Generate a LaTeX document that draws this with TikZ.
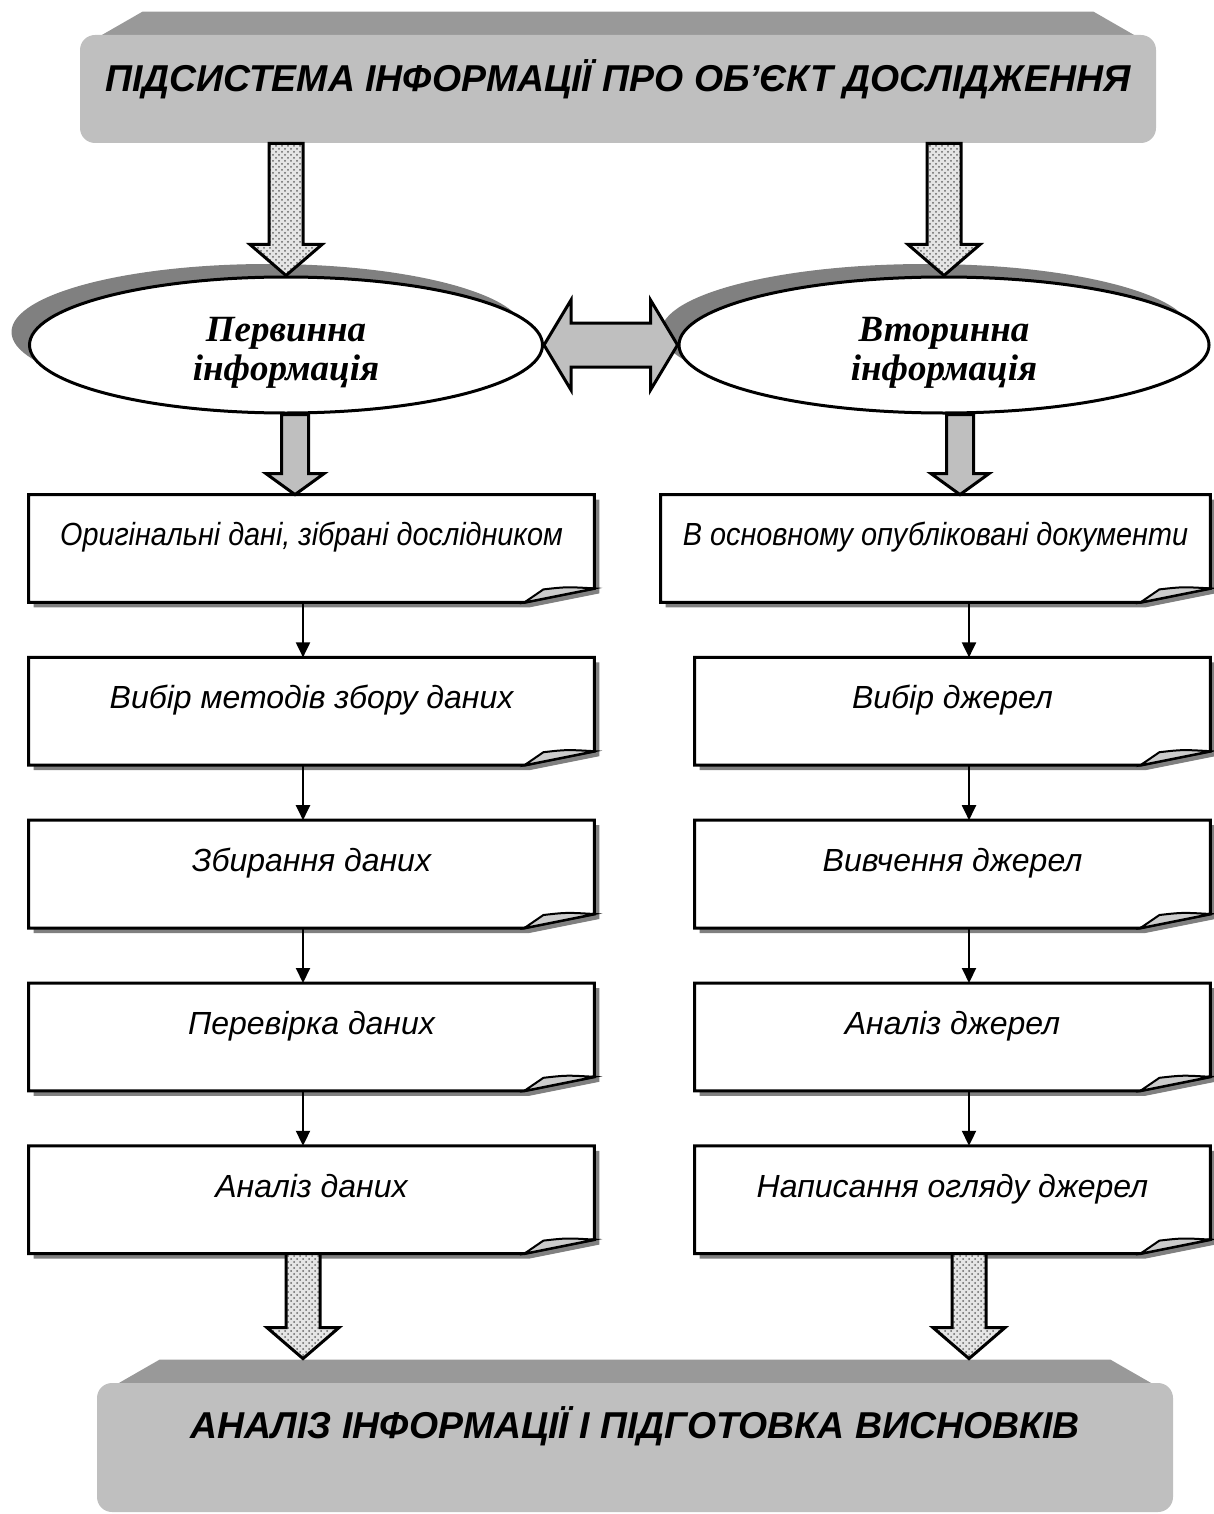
\documentclass[tikz,border=0pt]{standalone}
\usepackage{fontspec}
\setmainfont{Liberation Sans}
\newfontfamily\timesfont{Liberation Serif}
\newfontfamily\narrowfont{Liberation Sans}[FakeStretch=0.9]
\usetikzlibrary{arrows.meta}
\usetikzlibrary{positioning}
\usetikzlibrary{shapes.geometric}
\usetikzlibrary{shadows}
\usetikzlibrary{patterns}
\usetikzlibrary{backgrounds}
\usetikzlibrary{calc}

\tikzset{
    banner/.style={rectangle, rounded corners=7.5pt, fill=black!25, inner sep=0pt,
        minimum width=538pt, font=\fontsize{18.7}{21}\selectfont\bfseries\itshape},
    bevel/.style={fill=black!40},
    info/.style={ellipse, draw, line width=1.5pt, fill=white, inner sep=0pt,
        minimum height=68pt, align=center, text height=39.5pt, text depth=4.5pt,
        font=\timesfont\fontsize{18.5}{19.5}\selectfont\bfseries\itshape,
        drop shadow={shadow xshift=-9pt, shadow yshift=6.5pt, fill=black!50, opacity=1}},
    note/.style={rectangle, inner sep=0pt, minimum width=282.5pt, minimum height=53.5pt,
        text height=8pt, text depth=10.6pt, font=\fontsize{16}{19}\selectfont\itshape},
    narrow/.style={font=\narrowfont\fontsize{16}{19}\selectfont\itshape},
    link/.style={-{Triangle[length=7.5pt,width=7pt]}, line width=1pt},
    fat/.style n args={3}{to path={let \p1=(\tikztostart), \p2=(\tikztotarget) in
        (\x1-#1,\y1) -- (\x1-#1,\y2+#3) -- (\x1-#2,\y2+#3) -- (\x1,\y2)
        -- (\x1+#2,\y2+#3) -- (\x1+#1,\y2+#3) -- (\x1+#1,\y1) -- cycle}},
    dotarrow/.style={fat={8.5pt}{18pt}{15.5pt}, draw, line width=1.5pt,
        preaction={fill=black!10}, pattern=crosshatch dots, pattern color=black!60},
    greyarrow/.style={fat={6.75pt}{14.5pt}{10.5pt}, draw, line width=1.5pt, fill=black!25},
    twoway/.style={draw, line width=1.5pt, fill=black!25,
        to path={let \p1=(\tikztostart), \p2=(\tikztotarget) in
        (\x1,\y1) -- (\x1+13.5pt,\y1+22.5pt) -- (\x1+13.5pt,\y1+11pt) -- (\x2-13.5pt,\y1+11pt)
        -- (\x2-13.5pt,\y1+22.5pt) -- (\x2,\y1) -- (\x2-13.5pt,\y1-22.5pt) -- (\x2-13.5pt,\y1-11pt)
        -- (\x1+13.5pt,\y1-11pt) -- (\x1+13.5pt,\y1-22.5pt) -- cycle}}
}

\begin{document}
\begin{tikzpicture}[x=0.5pt, y=0.5pt]

                    \useasboundingbox (0,0) rectangle (1214,-1514);

                    \node[banner, minimum height=54pt, text height=12pt, text depth=9pt] (src) at (618,-89) {ПІДСИСТЕМА ІНФОРМАЦІЇ ПРО ОБ’ЄКТ ДОСЛІДЖЕННЯ};

                    \node[info, minimum width=256.5pt] (prim) at (286,-345) {Первинна\\інформація};
                    \node[info, minimum width=265pt]   (sec)  at (944,-345) {Вторинна\\інформація};

                    \node[note, narrow] (p_1) at (311.5,-548.5) {Оригінальні дані, зібрані дослідником};
                    \node[note] (p_2) [below = 27.5pt of p_1] {Вибір методів збору даних};
                    \node[note] (p_3) [below = 27.5pt of p_2] {Збирання даних};
                    \node[note] (p_4) [below = 27.5pt of p_3] {Перевірка даних};
                    \node[note] (p_5) [below = 27.5pt of p_4] {Аналіз даних};

                    \node[note, narrow, minimum width=274.5pt] (s_1) at (935.5,-548.5) {В основному опубліковані документи};
                    \node[note, minimum width=257.5pt] (s_2) [below = 27.5pt of s_1, xshift=8.5pt] {Вибір джерел};
                    \node[note, minimum width=257.5pt] (s_3) [below = 27.5pt of s_2] {Вивчення джерел};
                    \node[note, minimum width=257.5pt] (s_4) [below = 27.5pt of s_3] {Аналіз джерел};
                    \node[note, minimum width=257.5pt] (s_5) [below = 27.5pt of s_4] {Написання огляду джерел};

                    \node[banner, minimum height=64.5pt, text height=8pt, text depth=17.5pt] (res) at (635,-1447.5) {АНАЛІЗ ІНФОРМАЦІЇ І ПІДГОТОВКА ВИСНОВКІВ};

                    \coordinate (lx) at (303,0);
                    \coordinate (rx) at (969,0);
                    \coordinate (restop) at ([yshift=12pt]res.north);
                    \coordinate (pstem) at ([xshift=4.5pt]prim.south);
                    \coordinate (sstem) at ([xshift=8pt]sec.south);

                    \path[dotarrow] (src.south -| prim.north) to (prim.north);
                    \path[dotarrow] (src.south -| sec.north) to (sec.north);
                    \path[twoway] (prim.east) to (sec.west);
                    \path[greyarrow] (pstem) to (pstem |- p_1.north);
                    \path[greyarrow] (sstem) to (sstem |- s_1.north);

                    \path[link]
                    (p_1.south -| lx) edge (p_2.north -| lx)
                    (p_2.south -| lx) edge (p_3.north -| lx)
                    (p_3.south -| lx) edge (p_4.north -| lx)
                    (p_4.south -| lx) edge (p_5.north -| lx)
                    (s_1.south -| rx) edge (s_2.north -| rx)
                    (s_2.south -| rx) edge (s_3.north -| rx)
                    (s_3.south -| rx) edge (s_4.north -| rx)
                    (s_4.south -| rx) edge (s_5.north -| rx);

                    \path[dotarrow] (p_5.south -| lx) to (restop -| lx);
                    \path[dotarrow] (s_5.south -| rx) to (restop -| rx);

                    \begin{scope}[on background layer]
                    \foreach \b in {src,res}
                        \fill[bevel] ([xshift=31.5pt,yshift=11.5pt]\b.north west) -- ([xshift=-31.5pt,yshift=11.5pt]\b.north east)
                            -- ([xshift=-8pt,yshift=-2pt]\b.north east) -- ([xshift=8pt,yshift=-2pt]\b.north west) -- cycle;
                    \foreach \n in {p_1,p_2,p_3,p_4,p_5,s_1,s_2,s_3,s_4,s_5} {
                        \fill[black!50, transform canvas={shift={(2.5pt,-2.5pt)}}] (\n.north west) -- (\n.north east)
                            -- ([yshift=7pt]\n.south east) -- ([xshift=-35pt]\n.south east) -- (\n.south west) -- cycle;
                        \draw[line width=1.5pt, fill=white] (\n.north west) -- (\n.north east)
                            -- ([yshift=7pt]\n.south east) -- ([xshift=-35pt]\n.south east) -- (\n.south west) -- cycle;
                        \draw[line width=1pt, fill=black!20] ([xshift=-35pt]\n.south east) -- ([xshift=-25.5pt,yshift=6.5pt]\n.south east)
                            .. controls ([xshift=-14pt,yshift=7.8pt]\n.south east) .. ([yshift=7pt]\n.south east) -- cycle;
                    }
                    \end{scope}

                \end{tikzpicture}
\end{document}
